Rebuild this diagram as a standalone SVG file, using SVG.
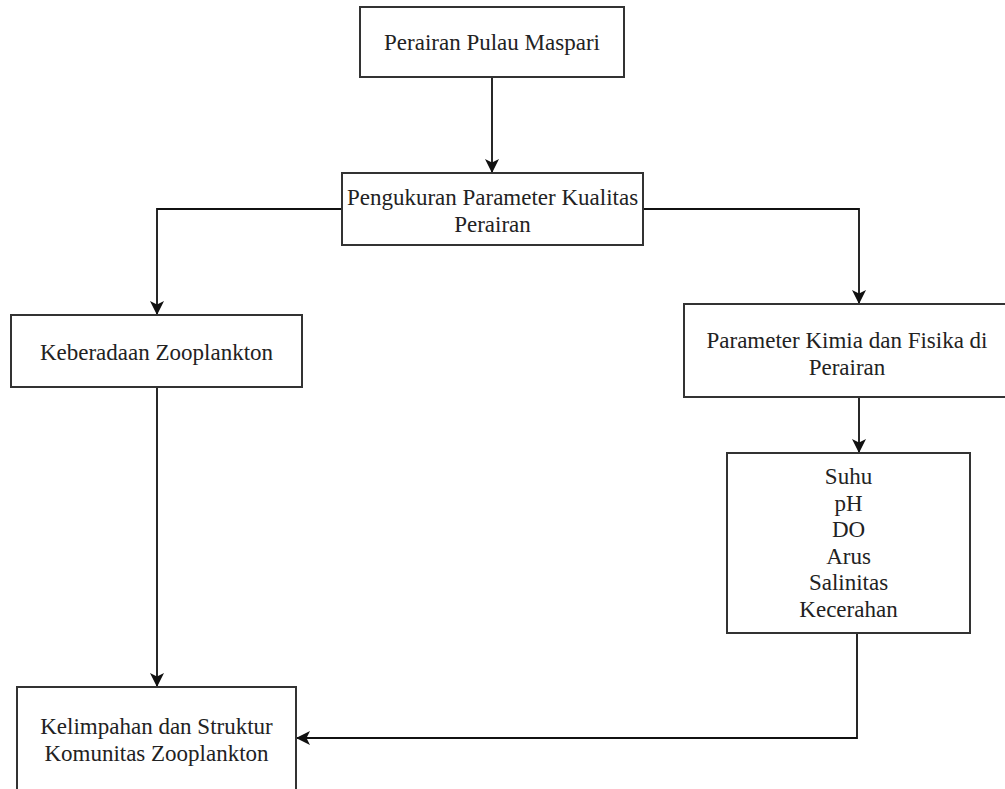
<svg xmlns="http://www.w3.org/2000/svg" width="1005" height="789" viewBox="0 0 1005 789">
<style>
.box{fill:#fff;stroke:#333;stroke-width:2}
.lbl{font-family:"Liberation Serif","Times New Roman",serif;font-size:23px;fill:#222;text-anchor:middle}
.edge{fill:none;stroke:#111;stroke-width:1.8}
</style>
<defs>
<marker id="arr" viewBox="0 0 14 14" refX="14" refY="7" markerWidth="14" markerHeight="14" markerUnits="userSpaceOnUse" orient="auto">
<path d="M0,0 L14,7 L0,14 L3.5,7 Z" fill="#111"/>
</marker>
</defs>
<rect width="1005" height="789" fill="#fff"/>
<g id="connectors">
<path class="edge" d="M492,77 V173" marker-end="url(#arr)"/>
<path class="edge" d="M342,209 H157 V315" marker-end="url(#arr)"/>
<path class="edge" d="M643,209 H859 V304" marker-end="url(#arr)"/>
<path class="edge" d="M859,397 V453" marker-end="url(#arr)"/>
<path class="edge" d="M157,387 V687" marker-end="url(#arr)"/>
<path class="edge" d="M857,633 V738 H296" marker-end="url(#arr)"/>
</g>
<g id="n1">
<rect class="box" x="360" y="7" width="264" height="70"/>
<text class="lbl" x="492" y="50">Perairan Pulau Maspari</text>
</g>
<g id="n2">
<rect class="box" x="342" y="173" width="301" height="72"/>
<text class="lbl" x="492.5" y="205">Pengukuran Parameter Kualitas</text>
<text class="lbl" x="492.5" y="231.5">Perairan</text>
</g>
<g id="n3">
<rect class="box" x="11" y="315" width="291" height="72"/>
<text class="lbl" x="156.5" y="360">Keberadaan Zooplankton</text>
</g>
<g id="n4">
<rect class="box" x="684" y="304" width="326" height="93"/>
<text class="lbl" x="847" y="348">Parameter Kimia dan Fisika di</text>
<text class="lbl" x="847" y="375">Perairan</text>
</g>
<g id="n5">
<rect class="box" x="727" y="453" width="243" height="180"/>
<text class="lbl" x="848.5" y="484">Suhu</text>
<text class="lbl" x="848.5" y="510.6">pH</text>
<text class="lbl" x="848.5" y="537.2">DO</text>
<text class="lbl" x="848.5" y="563.8">Arus</text>
<text class="lbl" x="848.5" y="590.4">Salinitas</text>
<text class="lbl" x="848.5" y="617">Kecerahan</text>
</g>
<g id="n6">
<rect class="box" x="17" y="687" width="279" height="110"/>
<text class="lbl" x="156.5" y="734">Kelimpahan dan Struktur</text>
<text class="lbl" x="156.5" y="760.5">Komunitas Zooplankton</text>
</g>
</svg>
